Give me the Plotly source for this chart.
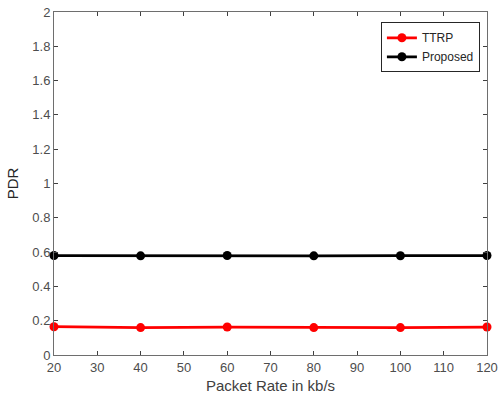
import plotly.graph_objects as go

packet_rate = [20, 40, 60, 80, 100, 120]
ttrp = [0.165, 0.160, 0.163, 0.160, 0.160, 0.163]
proposed = [0.580, 0.578, 0.580, 0.578, 0.579, 0.580]

x_ticks = [20, 30, 40, 50, 60, 70, 80, 90, 100, 110, 120]
y_ticks = [0, 0.2, 0.4, 0.6, 0.8, 1, 1.2, 1.4, 1.6, 1.8, 2]
y_tick_text = ["0", "0.2", "0.4", "0.6", "0.8", "1", "1.2", "1.4", "1.6", "1.8", "2"]

FONT = "Liberation Sans, Arial"

fig = go.Figure()
fig.add_trace(go.Scatter(x=packet_rate, y=ttrp, name="TTRP", mode="lines+markers",
                         line=dict(color="#ff0000", width=2.8),
                         marker=dict(symbol="circle", size=9, color="#ff0000"),
                         cliponaxis=False))
fig.add_trace(go.Scatter(x=packet_rate, y=proposed, name="Proposed", mode="lines+markers",
                         line=dict(color="#000000", width=2.8),
                         marker=dict(symbol="circle", size=9, color="#000000"),
                         cliponaxis=False))

axis_common = dict(showgrid=False, zeroline=False, showline=True, linecolor="#6e6e6e",
                   linewidth=1, mirror="ticks", ticks="inside", ticklen=4,
                   tickcolor="#404040", ticklabeloverflow="allow", automargin=False,
                   tickfont=dict(family=FONT, size=13, color="#4d4d4d"))

fig.update_layout(
    width=499, height=399,
    margin=dict(l=54, r=12, t=12, b=44),
    paper_bgcolor="white", plot_bgcolor="white",
    showlegend=True,
    legend=dict(x=0.755, y=0.97, xanchor="left", yanchor="top",
                bgcolor="white", bordercolor="#262626", borderwidth=1,
                font=dict(family=FONT, size=12, color="#262626"),
                tracegroupgap=0, itemwidth=30),
    xaxis=dict(range=[20, 120], tickvals=x_ticks,
               title=dict(text="Packet Rate in kb/s", standoff=6,
                          font=dict(family=FONT, size=15, color="#404040")),
               **axis_common),
    yaxis=dict(range=[0, 2], tickvals=y_ticks, ticktext=y_tick_text,
               title=dict(text="PDR", standoff=10,
                          font=dict(family=FONT, size=15, color="#262626")),
               **axis_common),
)

fig.write_html("out.html", config={"displayModeBar": False},
               post_script="document.body.style.margin='0';document.body.style.padding='0';")
